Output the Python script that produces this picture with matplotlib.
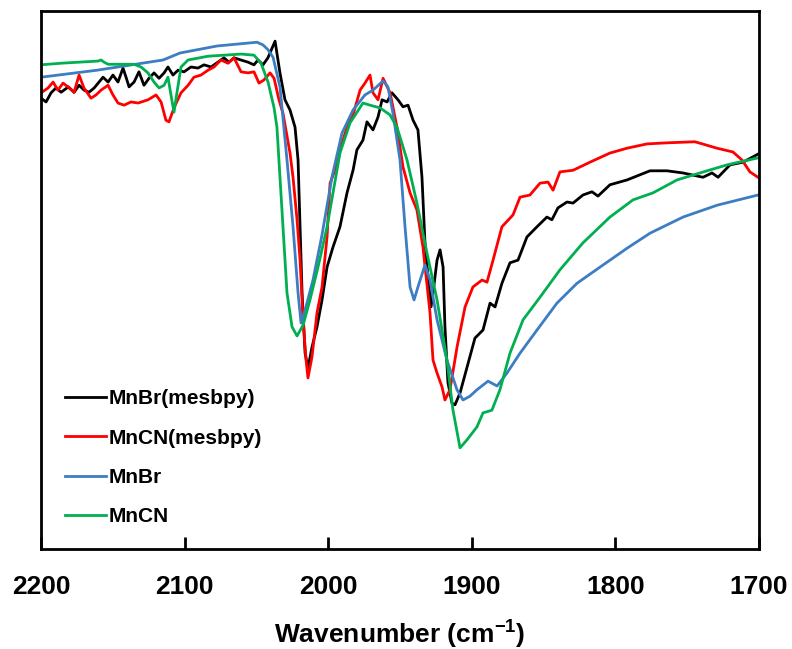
import matplotlib
matplotlib.use('Agg')
import matplotlib.pyplot as plt

plt.rcParams['font.family'] = ['Liberation Sans', 'DejaVu Sans']
plt.rcParams['font.weight'] = 'bold'
plt.rcParams['mathtext.fontset'] = 'custom'
plt.rcParams['mathtext.rm'] = 'Liberation Sans:bold'
plt.rcParams['mathtext.bf'] = 'Liberation Sans:bold'

# Spektren (Wellenzahl in cm-1, Transmission in %)
wn_mnbr_mes = [2200, 2196.5, 2193, 2189.6, 2186, 2181, 2177, 2173.5, 2170, 2166.6, 2163, 2159.6,
               2156.8, 2153.3, 2149.9, 2146.4, 2142.9, 2140.8, 2138.7, 2135.2, 2131.8, 2128.3,
               2124.8, 2121.3, 2117.8, 2114.3, 2111.6, 2108.1, 2104.6, 2100.4, 2095.6, 2090.7,
               2086.5, 2081.6, 2076.8, 2072.6, 2069.1, 2065.6, 2060.8, 2055.9, 2051.7, 2048.9,
               2045.4, 2042, 2039.1, 2037.0, 2033.6, 2030.1, 2026.6, 2023.1, 2021.0, 2019.6,
               2018.2, 2016.1, 2014.1, 2011.3, 2007.8, 2004.3, 2000.8, 1996.7, 1991.8, 1986.9,
               1982.7, 1980.0, 1975.8, 1973.0, 1968.8, 1965.3, 1962.5, 1959.0, 1955.6, 1951.4,
               1947.9, 1944.4, 1940.9, 1937.5, 1934.7, 1932.6, 1930.5, 1928.4, 1927.0, 1924.2,
               1922.1, 1920.0, 1918.7, 1916.6, 1913.8, 1911.7, 1908.2, 1903.3, 1897.8, 1892.2,
               1887.3, 1883.8, 1879.0, 1873.4, 1867.8, 1861.6, 1854.6, 1847.7, 1844.2, 1840.0,
               1833.7, 1829.5, 1822.6, 1816.3, 1812.1, 1803.8, 1791.9, 1775.9, 1764.1, 1752.9,
               1739.0, 1732.7, 1728.5, 1720.2, 1711.1, 1700.7]
t_mnbr_mes = [83.8, 83.1, 84.8, 85.7, 84.9, 85.9, 84.9, 86.2, 85.3, 84.9, 85.7, 86.8,
              87.7, 86.8, 88.1, 86.8, 89.4, 87.7, 85.9, 86.8, 88.7, 86.2,
              87.5, 88.5, 87.5, 88.5, 89.6, 88.1, 89.0, 88.7, 89.6, 89.4,
              90.0, 89.6, 90.5, 91.3, 90.5, 91.3, 90.9, 90.5, 90.0, 90.9,
              90.0, 91.3, 93.1, 94.4, 88.5, 83.5, 81.6, 78.4, 72.3, 59.9,
              47.6, 36.4, 33.6, 37.5, 41.3, 46.3, 52.4, 56.1, 59.9, 66.2,
              70.4, 74.2, 76.0, 79.4, 77.9, 80.3, 83.5, 83.1, 84.8, 83.5,
              82.2, 82.5, 79.7, 77.9, 69.1, 56.9, 50.6, 45.0, 47.6, 53.7,
              55.6, 52.4, 41.3, 30.9, 27.1, 26.8, 29.0, 33.8, 39.2, 40.7,
              45.7, 45.0, 49.4, 53.2, 53.7, 58.0, 59.9, 61.7, 61.2, 63.4,
              64.5, 64.3, 65.8, 66.4, 65.6, 67.7, 68.6, 70.3, 70.3, 69.9,
              69.1, 69.9, 69.1, 71.4, 71.9, 73.4]

wn_mncn_mes = [2200, 2195.1, 2191.6, 2188.2, 2184.7, 2181.2, 2177.0, 2173.5, 2170.1, 2165.2, 2161.7,
               2158.2, 2153.3, 2149.9, 2146.4, 2142.2, 2137.3, 2132.4, 2125.5, 2119.9, 2116.4,
               2113.0, 2110.9, 2107.4, 2102.5, 2097.6, 2093.5, 2088.6, 2083.7, 2079.5, 2074.7,
               2069.8, 2065.6, 2060.7, 2055.8, 2051.7, 2048.2, 2044.7, 2040.5, 2037.7, 2034.3,
               2031.5, 2026.6, 2024.5, 2021.7, 2019.6, 2017.5, 2015.4, 2014.1, 2011.3, 2007.8,
               2004.3, 2000.8, 1998.7, 1995.3, 1991.8, 1986.9, 1982.7, 1977.8, 1974.4, 1970.9,
               1968.8, 1965.3, 1961.8, 1956.9, 1952.1, 1947.9, 1943.0, 1938.2, 1934.0, 1929.1,
               1927.0, 1924.2, 1920.7, 1918.7, 1915.2, 1910.3, 1904.7, 1899.2, 1892.9, 1889.4,
               1885.2, 1879.0, 1871.3, 1866.4, 1859.5, 1852.5, 1846.9, 1843.4, 1838.6, 1829.5,
               1817.7, 1803.8, 1791.9, 1778.0, 1764.1, 1744.6, 1729.2, 1718.1, 1711.8, 1706.3,
               1700.7]
t_mncn_mes = [84.8, 85.7, 86.8, 85.3, 86.6, 85.9, 84.9, 88.1, 85.7, 83.8, 84.4,
              85.3, 86.2, 84.4, 82.9, 82.5, 83.1, 82.9, 83.5, 84.4, 83.1,
              79.7, 79.4, 82.0, 84.8, 86.2, 87.7, 88.1, 89.0, 89.6, 90.9,
              90.3, 91.3, 88.7, 88.5, 88.7, 86.6, 87.2, 88.5, 87.5, 83.5,
              81.0, 73.6, 69.1, 61.2, 53.7, 42.6, 35.1, 31.8, 35.7, 43.9,
              48.7, 58.0, 68.0, 70.4, 74.2, 78.4, 80.7, 85.3, 86.6, 88.1,
              84.8, 83.5, 87.5, 84.8, 78.4, 71.0, 66.2, 63.0, 56.1, 43.9,
              35.1, 32.7, 30.1, 27.7, 29.6, 37.5, 45.0, 48.7, 50.0, 49.6,
              53.7, 59.9, 62.1, 65.4, 65.8, 68.0, 68.2, 66.7, 70.1, 70.4,
              71.9, 73.6, 74.5, 75.3, 75.5, 75.7, 74.5, 73.8, 72.3, 70.1,
              69.1]

wn_mnbr = [2200, 2161.0, 2115.0, 2103.2, 2077.4, 2049.6, 2045.4, 2041.9, 2038.4, 2033.6, 2028.7,
           2024.5, 2021.0, 2018.9, 2016.1, 2010.6, 2004.3, 1997.4, 1990.4, 1982.7, 1974.4,
           1968.8, 1961.8, 1958.4, 1954.9, 1950.0, 1946.5, 1943.0, 1940.2, 1937.5, 1932.6,
           1929.1, 1924.2, 1917.3, 1910.3, 1906.1, 1901.3, 1896.4, 1888.7, 1882.4, 1875.5,
           1866.4, 1854.6, 1840.7, 1826.7, 1810.7, 1791.9, 1775.9, 1752.9, 1729.2, 1700.7]
t_mnbr = [87.7, 89.0, 90.9, 92.2, 93.5, 94.2, 93.7, 92.8, 91.4, 85.9, 72.3,
          59.9, 47.6, 42.0, 44.4, 50.0, 58.4, 69.1, 77.3, 81.6, 84.4,
          85.3, 87.0, 85.9, 81.0, 72.3, 59.9, 48.7, 46.3, 48.7, 52.8,
          50.0, 42.6, 35.1, 29.6, 27.7, 28.4, 29.6, 31.2, 30.3, 32.7,
          36.4, 40.7, 45.7, 49.4, 52.4, 55.9, 58.7, 61.7, 63.9, 65.8]

wn_mncn = [2200, 2186.1, 2160.3, 2158.2, 2156.1, 2153.3, 2135.2, 2130.4, 2125.5, 2121.3, 2117.8,
           2114.3, 2111.6, 2109.5, 2107.4, 2105.3, 2102.5, 2097.6, 2083.7, 2060.7, 2051.7,
           2046.8, 2041.9, 2037.7, 2035.7, 2031.5, 2028.7, 2025.2, 2021.7, 2017.5, 2012.7,
           2007.1, 2000.8, 1991.8, 1984.8, 1975.8, 1970.9, 1963.9, 1957.0, 1952.1, 1945.1,
           1938.2, 1931.2, 1924.2, 1917.3, 1913.1, 1908.2, 1903.3, 1896.4, 1892.2, 1886.0,
           1880.4, 1873.4, 1864.3, 1852.5, 1838.6, 1822.6, 1803.8, 1787.7, 1773.8, 1757.1,
           1741.1, 1722.3, 1700.7]
t_mncn = [90.0, 90.3, 90.7, 90.9, 90.5, 90.1, 90.1, 89.6, 88.5, 86.8, 85.7,
          86.2, 87.7, 84.4, 81.2, 84.9, 89.6, 90.9, 91.6, 92.0, 91.8,
          90.3, 86.8, 82.0, 78.4, 59.9, 47.6, 41.3, 39.6, 41.6, 46.3,
          52.4, 59.9, 73.6, 79.2, 82.9, 82.5, 82.0, 80.7, 78.4, 72.3,
          64.3, 55.0, 46.3, 35.1, 25.8, 18.8, 20.3, 22.7, 25.3, 25.8,
          29.6, 36.4, 42.6, 46.8, 51.9, 56.9, 61.7, 64.9, 66.2, 68.6,
          69.9, 71.4, 72.7]

labels = ['MnBr(mesbpy)', 'MnCN(mesbpy)', 'MnBr', 'MnCN']
colors = ['black', '#FF0000', '#3D7DC3', '#00B050']
xticks = [2200, 2100, 2000, 1900, 1800, 1700]

fig = plt.figure(figsize=(7.92, 6.49), dpi=100)
ax = fig.add_axes([0.0518, 0.1541, 0.9065, 0.8289])

ax.plot(wn_mnbr_mes, t_mnbr_mes, color=colors[0], lw=2, label=labels[0])
ax.plot(wn_mncn_mes, t_mncn_mes, color=colors[1], lw=2, label=labels[1])
ax.plot(wn_mnbr, t_mnbr, color=colors[2], lw=2, label=labels[2])
ax.plot(wn_mncn, t_mncn, color=colors[3], lw=2, label=labels[3])

ax.set_xlim(2200, 1700)
ax.set_ylim(0, 100)
ax.set_xticks(xticks)
ax.set_xticklabels([str(t) for t in xticks], fontsize=19, fontweight='bold')
ax.set_yticks([])
ax.tick_params(axis='x', direction='in', length=9, width=2, pad=19)
for s in ax.spines.values():
    s.set_linewidth(2)

ax.set_xlabel(r'Wavenumber (cm$^{\mathbf{-1}}$)', fontsize=19, fontweight='bold', labelpad=13)

leg = ax.legend(loc='lower left', bbox_to_anchor=(0.033, 0.042), frameon=False,
                fontsize=15, handlelength=2.0, handletextpad=0.1, labelspacing=0.98,
                borderpad=0, borderaxespad=0)
for t in leg.get_texts():
    t.set_fontweight('bold')

plt.savefig('out.png', dpi=100)
